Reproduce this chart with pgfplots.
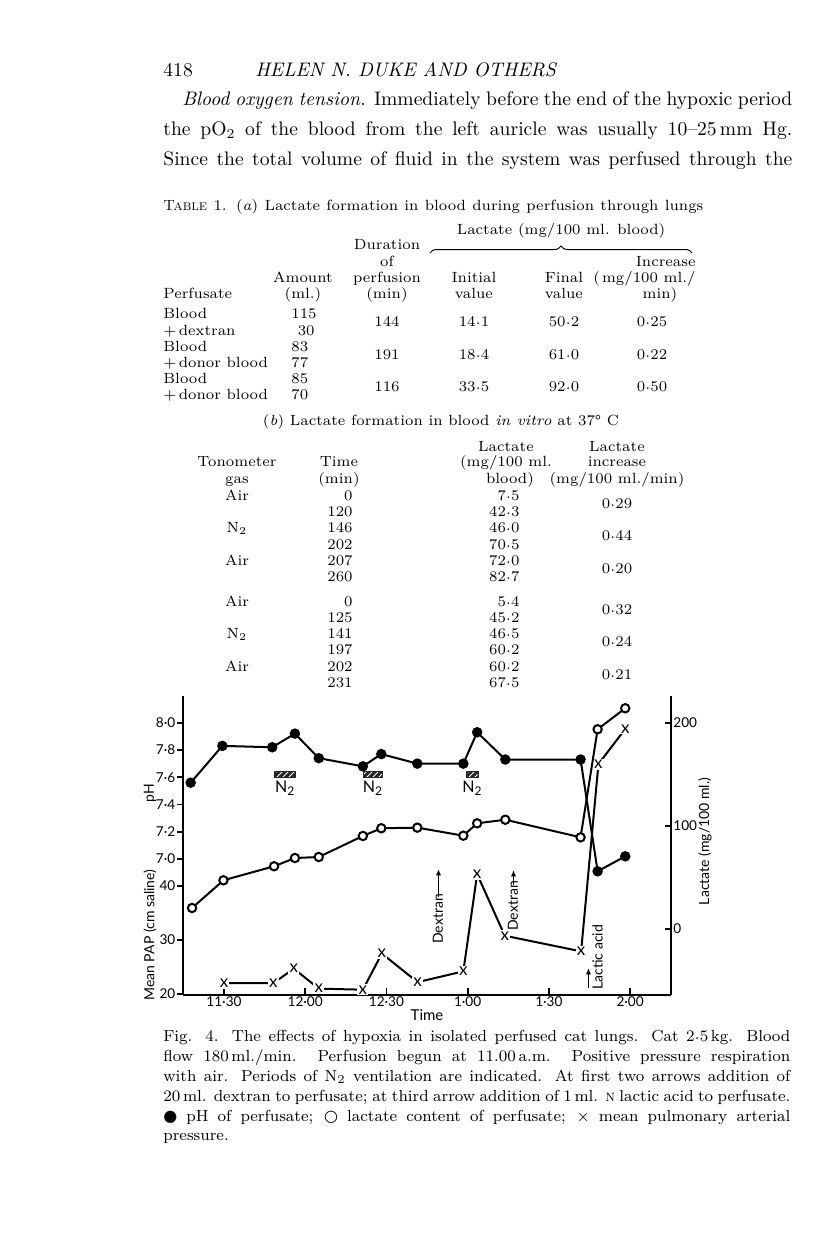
\documentclass[border=0pt]{standalone}
\usepackage{fontspec}
\usepackage{pgfplots}
\pgfplotsset{compat=1.18}
\usetikzlibrary{patterns,arrows.meta,decorations.pathreplacing}
\newfontfamily\chartfont{Lato}
\newfontfamily\symfont{DejaVu Sans}

\newcommand\bodyfont{\fontsize{9.8}{12}\selectfont}
\newcommand\tabfont{\fontsize{7.4}{9}\selectfont}
\newcommand\capfont{\fontsize{8}{10}\selectfont}
\newcommand\chfont{\chartfont\fontsize{7}{8}\selectfont}
\newcommand\tkfont{\chartfont\fontsize{6.8}{8}\selectfont}
% raised decimal point of the print
\newcommand\cd{\kern0.1pt\raisebox{0.28ex}{.}\kern0.1pt}
% text node at image pixel position
\newcommand\tx[4]{\node[anchor=#3,inner sep=0pt] at (#1,#2) {#4};}

\pgfplotsset{
  page/.style={scale only axis, width=243.85pt, height=149.25pt,
    at={(91.65pt,-497.25pt)}, anchor=south west,
    xmin=14.97, xmax=195.1, clip=false,
    tick style={line width=0.9pt, black},
    tick label style={font=\tkfont},
    major tick length=3pt},
  noarrows/.style={axis line style={-, line width=1pt},
    x axis line style={-}, y axis line style={-},
    every outer x axis line/.append style={-},
    every outer y axis line/.append style={-},
    every inner x axis line/.append style={-},
    every inner y axis line/.append style={-}},
}

\begin{document}
\begin{tikzpicture}
\useasboundingbox (0,0) rectangle (408pt,-629pt);

% time axis (bottom line, inner ticks)
\begin{axis}[page, axis x line*=bottom, axis y line=none, ymin=0, ymax=1,
  xtick pos=left, tick align=inside, major tick length=3.5pt,
  xtick={30,60,90,120,150,180},
  xticklabels={11·30,12·00,12·30,1·00,1·30,2·00},
  xticklabel style={inner sep=1pt}, noarrows]
\end{axis}

% mean PAP (lower left scale)
\begin{axis}[page, axis y line*=left, axis x line=none,
  ymin=19.91, ymax=75.2, ytick pos=left, tick align=outside,
  ytick={20,30,40}, yticklabels={20,30,40},
  yticklabel style={inner sep=0.8pt}, noarrows]
\addplot[black, line width=1pt, mark=text, text mark={x}, text mark as node=true,
  text mark style={font=\chartfont\fontsize{8.5}{8.5}\selectfont, fill=white, inner sep=0.6pt}]
  coordinates {(30.0,22.0) (48.2,22.0) (55.8,24.7) (65.0,21.0) (81.3,20.8)
  (88.3,27.5) (101.5,22.2) (118.4,24.2) (123.5,42.2) (133.7,30.8)
  (161.9,27.9) (168.3,62.6) (178.2,69.1)};
\end{axis}

% lactate (right scale)
\begin{axis}[page, axis y line*=right, axis x line=none,
  ymin=-63.9, ymax=225.9, ytick pos=right, yticklabel pos=right, tick align=inside,
  ytick={0,100,200}, yticklabels={0,100,200},
  yticklabel style={inner sep=1pt}, noarrows]
\addplot[black, line width=1pt, mark=*, mark size=2.1pt, mark options={fill=white}]
  coordinates {(18.2,20.1) (29.8,47.0) (48.5,60.6) (56.2,68.6) (65.0,69.6)
  (81.3,90.0) (88.1,97.5) (101.4,98.1) (118.4,90.3) (123.5,102.3)
  (133.9,105.8) (161.7,88.7) (168.0,193.6) (178.2,214.0)};
\end{axis}

% pH (upper left scale)
\begin{axis}[page, axis y line*=left, axis x line=none,
  ymin=6.006, ymax=8.196, ytick pos=left, tick align=outside,
  ytick={7,7.2,7.4,7.6,7.8,8},
  yticklabels={7·0,7·2,7·4,7·6,7·8,8·0},
  yticklabel style={inner sep=0.8pt}, noarrows]
\addplot[black, line width=1pt, mark=*, mark size=2.1pt]
  coordinates {(17.7,7.56) (29.4,7.83) (47.8,7.82) (56.2,7.92) (65.0,7.74)
  (81.3,7.68) (88.1,7.77) (101.4,7.70) (118.4,7.70) (123.5,7.93)
  (133.9,7.73) (161.7,7.73) (168.0,6.91) (178.2,7.02)};
\end{axis}

\begin{scope}[x=0.5pt,y=-0.5pt]
% ---- running head and text
\tx{163}{72}{mid west}{\bodyfont 418}
\tx{255}{72}{mid west}{\bodyfont\itshape HELEN N. DUKE AND OTHERS}
\tx{182}{101}{mid west}{\bodyfont\makebox[305pt][s]{\textit{Blood oxygen tension}. Immediately before the end of the hypoxic period}}
\tx{163}{131}{mid west}{\bodyfont\makebox[314.5pt][s]{the pO\textsubscript{2} of the blood from the left auricle was usually 10--25\,mm Hg.}}
\tx{163}{161}{mid west}{\bodyfont\makebox[314.5pt][s]{Since the total volume of fluid in the system was perfused through the}}

% ---- table 1 (a)
\tx{163}{206}{mid west}{\tabfont\makebox[270pt][s]{\textsc{Table} 1. (\textit{a}) Lactate formation in blood during perfusion through lungs}}
\tx{561}{230}{mid}{\tabfont Lactate (mg/100 ml. blood)}
\draw[line width=0.5pt, decorate, decoration={brace, amplitude=3.5pt}] (430,253) -- (692,253);
\tx{387}{245}{mid}{\tabfont Duration}
\tx{387}{262}{mid}{\tabfont of}
\tx{387}{278}{mid}{\tabfont perfusion}
\tx{387}{294}{mid}{\tabfont (min)}
\tx{303}{278}{mid}{\tabfont Amount}
\tx{303}{294}{mid}{\tabfont (ml.)}
\tx{163}{294}{mid west}{\tabfont Perfusate}
\tx{474}{278}{mid}{\tabfont Initial}
\tx{474}{294}{mid}{\tabfont value}
\tx{564}{278}{mid}{\tabfont Final}
\tx{564}{294}{mid}{\tabfont value}
\tx{696}{262}{mid east}{\tabfont Increase}
\tx{696}{278}{mid east}{\tabfont (\kern1pt mg/100 ml./}
\tx{660}{294}{mid}{\tabfont min)}
\tx{163}{314}{mid west}{\tabfont Blood}
\tx{163}{331}{mid west}{\tabfont +\,dextran}
\tx{163}{347}{mid west}{\tabfont Blood}
\tx{163}{363}{mid west}{\tabfont +\,donor blood}
\tx{163}{379}{mid west}{\tabfont Blood}
\tx{163}{395}{mid west}{\tabfont +\,donor blood}
\tx{291}{314}{mid west}{\tabfont 115}
\tx{315}{331}{mid east}{\tabfont 30}
\tx{291}{347}{mid west}{\tabfont 83}
\tx{291}{363}{mid west}{\tabfont 77}
\tx{291}{379}{mid west}{\tabfont 85}
\tx{291}{395}{mid west}{\tabfont 70}
\tx{387}{322}{mid}{\tabfont 144}
\tx{474}{322}{mid}{\tabfont 14\cd1}
\tx{564}{322}{mid}{\tabfont 50\cd2}
\tx{652}{322}{mid}{\tabfont 0\cd25}
\tx{387}{355}{mid}{\tabfont 191}
\tx{474}{355}{mid}{\tabfont 18\cd4}
\tx{564}{355}{mid}{\tabfont 61\cd0}
\tx{652}{355}{mid}{\tabfont 0\cd22}
\tx{387}{387}{mid}{\tabfont 116}
\tx{474}{387}{mid}{\tabfont 33\cd5}
\tx{564}{387}{mid}{\tabfont 92\cd0}
\tx{652}{387}{mid}{\tabfont 0\cd50}

% ---- table 1 (b)
\tx{441}{421}{mid}{\tabfont (\textit{b}) Lactate formation in blood \textit{in vitro} at 37\textdegree\ C}
\tx{506}{447}{mid}{\tabfont Lactate}
\tx{617}{447}{mid}{\tabfont Lactate}
\tx{237}{462}{mid}{\tabfont Tonometer}
\tx{339}{462}{mid}{\tabfont Time}
\tx{506}{462}{mid}{\tabfont (mg/100 ml.}
\tx{617}{462}{mid}{\tabfont increase}
\tx{237}{479}{mid}{\tabfont gas}
\tx{339}{479}{mid}{\tabfont (min)}
\tx{510}{479}{mid}{\tabfont blood)}
\tx{617}{479}{mid}{\tabfont (mg/100 ml./min)}
\tx{237}{496}{mid}{\tabfont Air}
\tx{237}{528}{mid}{\tabfont N\textsubscript{2}}
\tx{237}{561}{mid}{\tabfont Air}
\tx{237}{602}{mid}{\tabfont Air}
\tx{237}{634}{mid}{\tabfont N\textsubscript{2}}
\tx{237}{667}{mid}{\tabfont Air}
\foreach \y/\t/\a/\b in {496/0/7/5, 512/120/42/3, 528/146/46/0, 545/202/70/5,
  561/207/72/0, 577/260/82/7, 602/0/5/4, 618/125/45/2, 634/141/46/5,
  650/197/60/2, 667/202/60/2, 683/231/67/5}{
  \tx{353}{\y}{mid east}{\tabfont \t}
  \tx{520}{\y}{mid east}{\tabfont \a\cd\b}
}
\foreach \y/\v in {504/29, 536/44, 569/20, 610/32, 642/24, 675/21}{
  \tx{617}{\y}{mid}{\tabfont 0\cd\v}
}

% ---- chart annotations
\foreach \a/\b in {274.3/296, 362.7/383.3, 466/479}{
  \fill[black!85] (\a,771.2) rectangle (\b,778.2);
  \fill[pattern=north east lines, pattern color=white] (\a+1.5,772.6) rectangle (\b-1.5,776.8);
}
\foreach \x in {285.2, 373, 472.5}{
  \tx{\x}{788}{mid}{\chartfont\fontsize{8}{9}\selectfont N\textsubscript{2}}
}
\node[rotate=90, anchor=west, inner sep=0pt, font=\chfont] at (438,944) {Dextran};
\draw[line width=0.8pt, -{Latex[length=3.2pt,width=2.6pt]}] (438.5,897) -- (438.5,869);
\node[rotate=90, anchor=west, inner sep=0pt, font=\chfont] at (513,931) {Dextran};
\draw[line width=0.8pt, -{Latex[length=3.2pt,width=2.6pt]}] (513.5,885) -- (513.5,870);
\node[rotate=90, anchor=west, inner sep=0pt, font=\chfont] at (597.5,990) {Lactic acid};
\draw[line width=0.8pt, -{Latex[length=3.2pt,width=2.6pt]}] (588.5,988) -- (588.5,968);
\node[rotate=90, inner sep=0pt, font=\chfont] at (150,793) {pH};
\node[rotate=90, inner sep=0pt, font=\chfont] at (150,935) {Mean PAP (cm saline)};
\node[inner sep=0pt, font=\chartfont\fontsize{7.5}{8}\selectfont] at (427,1015) {Time};
\node[rotate=90, inner sep=0pt, font=\chfont] at (705,841.5) {Lactate (mg/100 ml.)};

% ---- caption
\tx{163}{1037}{mid west}{\capfont\makebox[313.5pt][s]{Fig. 4. The effects of hypoxia in isolated perfused cat lungs. Cat 2\cd5\,kg. Blood}}
\tx{163}{1057}{mid west}{\capfont\makebox[313.5pt][s]{flow 180\,ml./min. Perfusion begun at 11.00\,a.m. Positive pressure respiration}}
\tx{163}{1077}{mid west}{\capfont\makebox[313.5pt][s]{with air. Periods of N\textsubscript{2} ventilation are indicated. At first two arrows addition of}}
\tx{163}{1097}{mid west}{\capfont\makebox[313.5pt][s]{20\,ml. dextran to perfusate; at third arrow addition of 1\,ml. \textsc{n} lactic acid to perfusate.}}
\tx{163}{1117}{mid west}{\capfont\makebox[313.5pt][s]{{\symfont ●} pH of perfusate; {\symfont ○} lactate content of perfusate; $\times$ mean pulmonary arterial}}
\tx{163}{1136}{mid west}{\capfont pressure.}
\end{scope}
\end{tikzpicture}
\end{document}
